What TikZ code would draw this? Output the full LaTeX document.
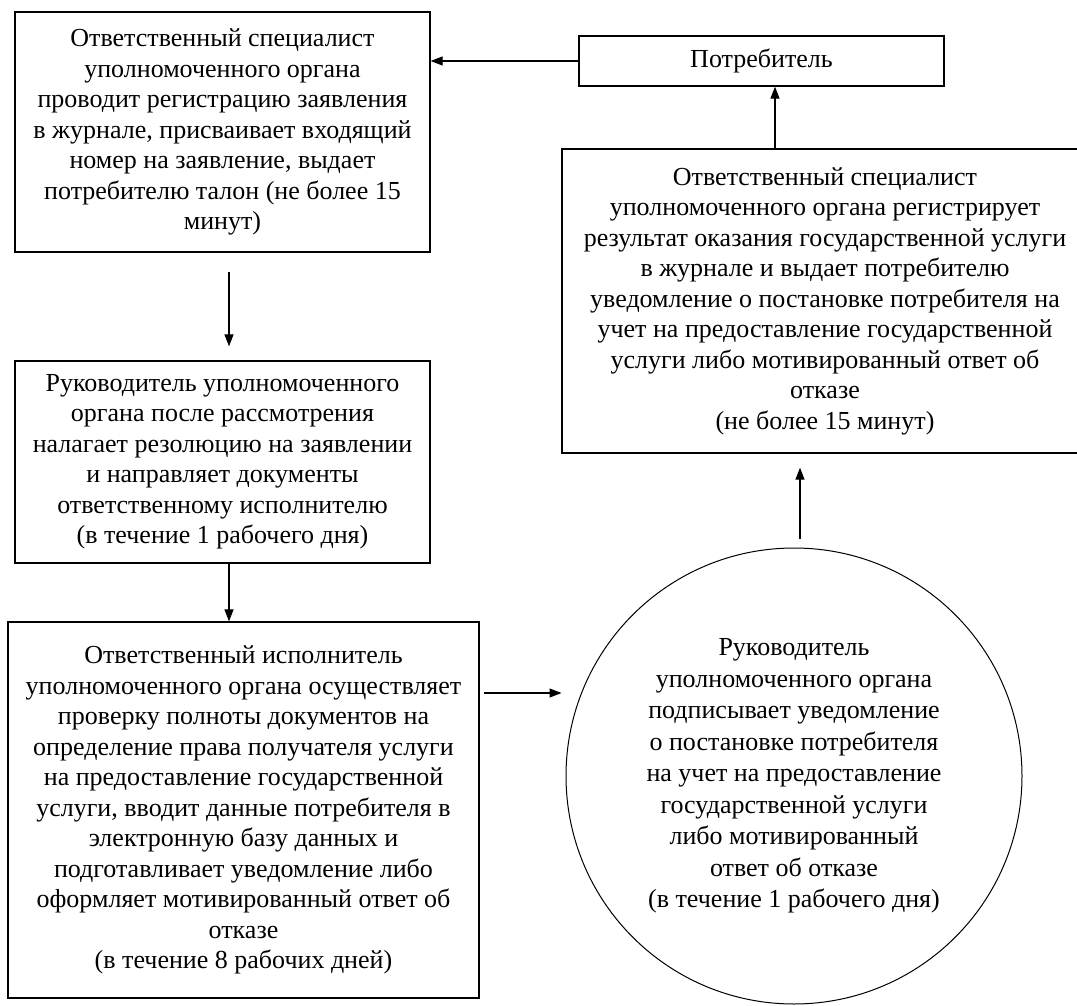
\documentclass[tikz,border=0pt]{standalone}
\usepackage{fontspec}
\setmainfont{Liberation Serif}
\usepackage{tikz}
\usetikzlibrary{positioning, arrows.meta}

\begin{document}
\begin{tikzpicture}[x=1pt, y=-1pt,
        box/.style={draw, line width=1.3pt, align=center, inner sep=0pt,
            font=\fontsize{26}{30.5}\selectfont},
        rnd/.style={draw, circle, line width=1pt, align=center, inner sep=0pt,
            font=\fontsize{26}{31.5}\selectfont},
        arr/.style={-{Triangle[length=12pt, width=9pt]}, line width=1.2pt}]
        \useasboundingbox (0,0) rectangle (1077,1006);
        \node[box, minimum width=415pt, minimum height=240pt] (spec) at (222.5,132)
            {Ответственный специалист\\ уполномоченного органа\\ проводит регистрацию заявления\\
             в журнале, присваивает входящий\\ номер на заявление, выдает\\
             потребителю талон (не более 15\\ минут)};
        \node[box, minimum width=415pt, minimum height=202pt] (ruk) at (222.5,462)
            {Руководитель уполномоченного\\ органа после рассмотрения\\ налагает резолюцию на заявлении\\
             и направляет документы\\ ответственному исполнителю\\ (в течение 1 рабочего дня)};
        \node[box, minimum width=471pt, minimum height=376pt] (isp) at (243.5,810)
            {Ответственный исполнитель\\ уполномоченного органа осуществляет\\ проверку полноты документов на\\
             определение права получателя услуги\\ на предоставление государственной\\
             услуги, вводит данные потребителя в\\ электронную базу данных и\\
             подготавливает уведомление либо\\ оформляет мотивированный ответ об\\ отказе\\
             (в течение 8 рабочих дней)};
        \node[rnd, minimum size=456pt] (podp) at (794,776)
            {Руководитель\\ уполномоченного органа\\ подписывает уведомление\\ о постановке потребителя\\
             на учет на предоставление\\ государственной услуги\\ либо мотивированный\\ ответ об отказе\\
             (в течение 1 рабочего дня)};
        \node[box, minimum width=526pt, minimum height=304pt] (resul) at (825,301)
            {Ответственный специалист\\ уполномоченного органа регистрирует\\ результат оказания государственной услуги\\
             в журнале и выдает потребителю\\ уведомление о постановке потребителя на\\
             учет на предоставление государственной\\ услуги либо мотивированный ответ об\\ отказе\\
             (не более 15 минут)};
        \node[box, minimum width=365pt, minimum height=50pt] (potr) at (761.5,61) {Потребитель};
        \coordinate (lvl) at (0,693);

        \draw[arr] (potr.west) -- (potr.west -| spec.east);
        \draw[arr, shorten <=19pt, shorten >=14pt] ([xshift=6.5pt]spec.south) -- ([xshift=6.5pt]ruk.north);
        \draw[arr] ([xshift=6.5pt]ruk.south) -- ([xshift=6.5pt]ruk.south |- isp.north);
        \draw[arr, shorten <=4pt, shorten >=4pt] (isp.east |- lvl) -- (podp.west |- lvl);
        \draw[arr, shorten <=9pt, shorten >=14pt] ([xshift=6pt]podp.north) -- ([xshift=6pt]podp.north |- resul.south);
        \draw[arr] ([xshift=13.5pt]potr.south |- resul.north) -- ([xshift=13.5pt]potr.south);
    \end{tikzpicture}
\end{document}
